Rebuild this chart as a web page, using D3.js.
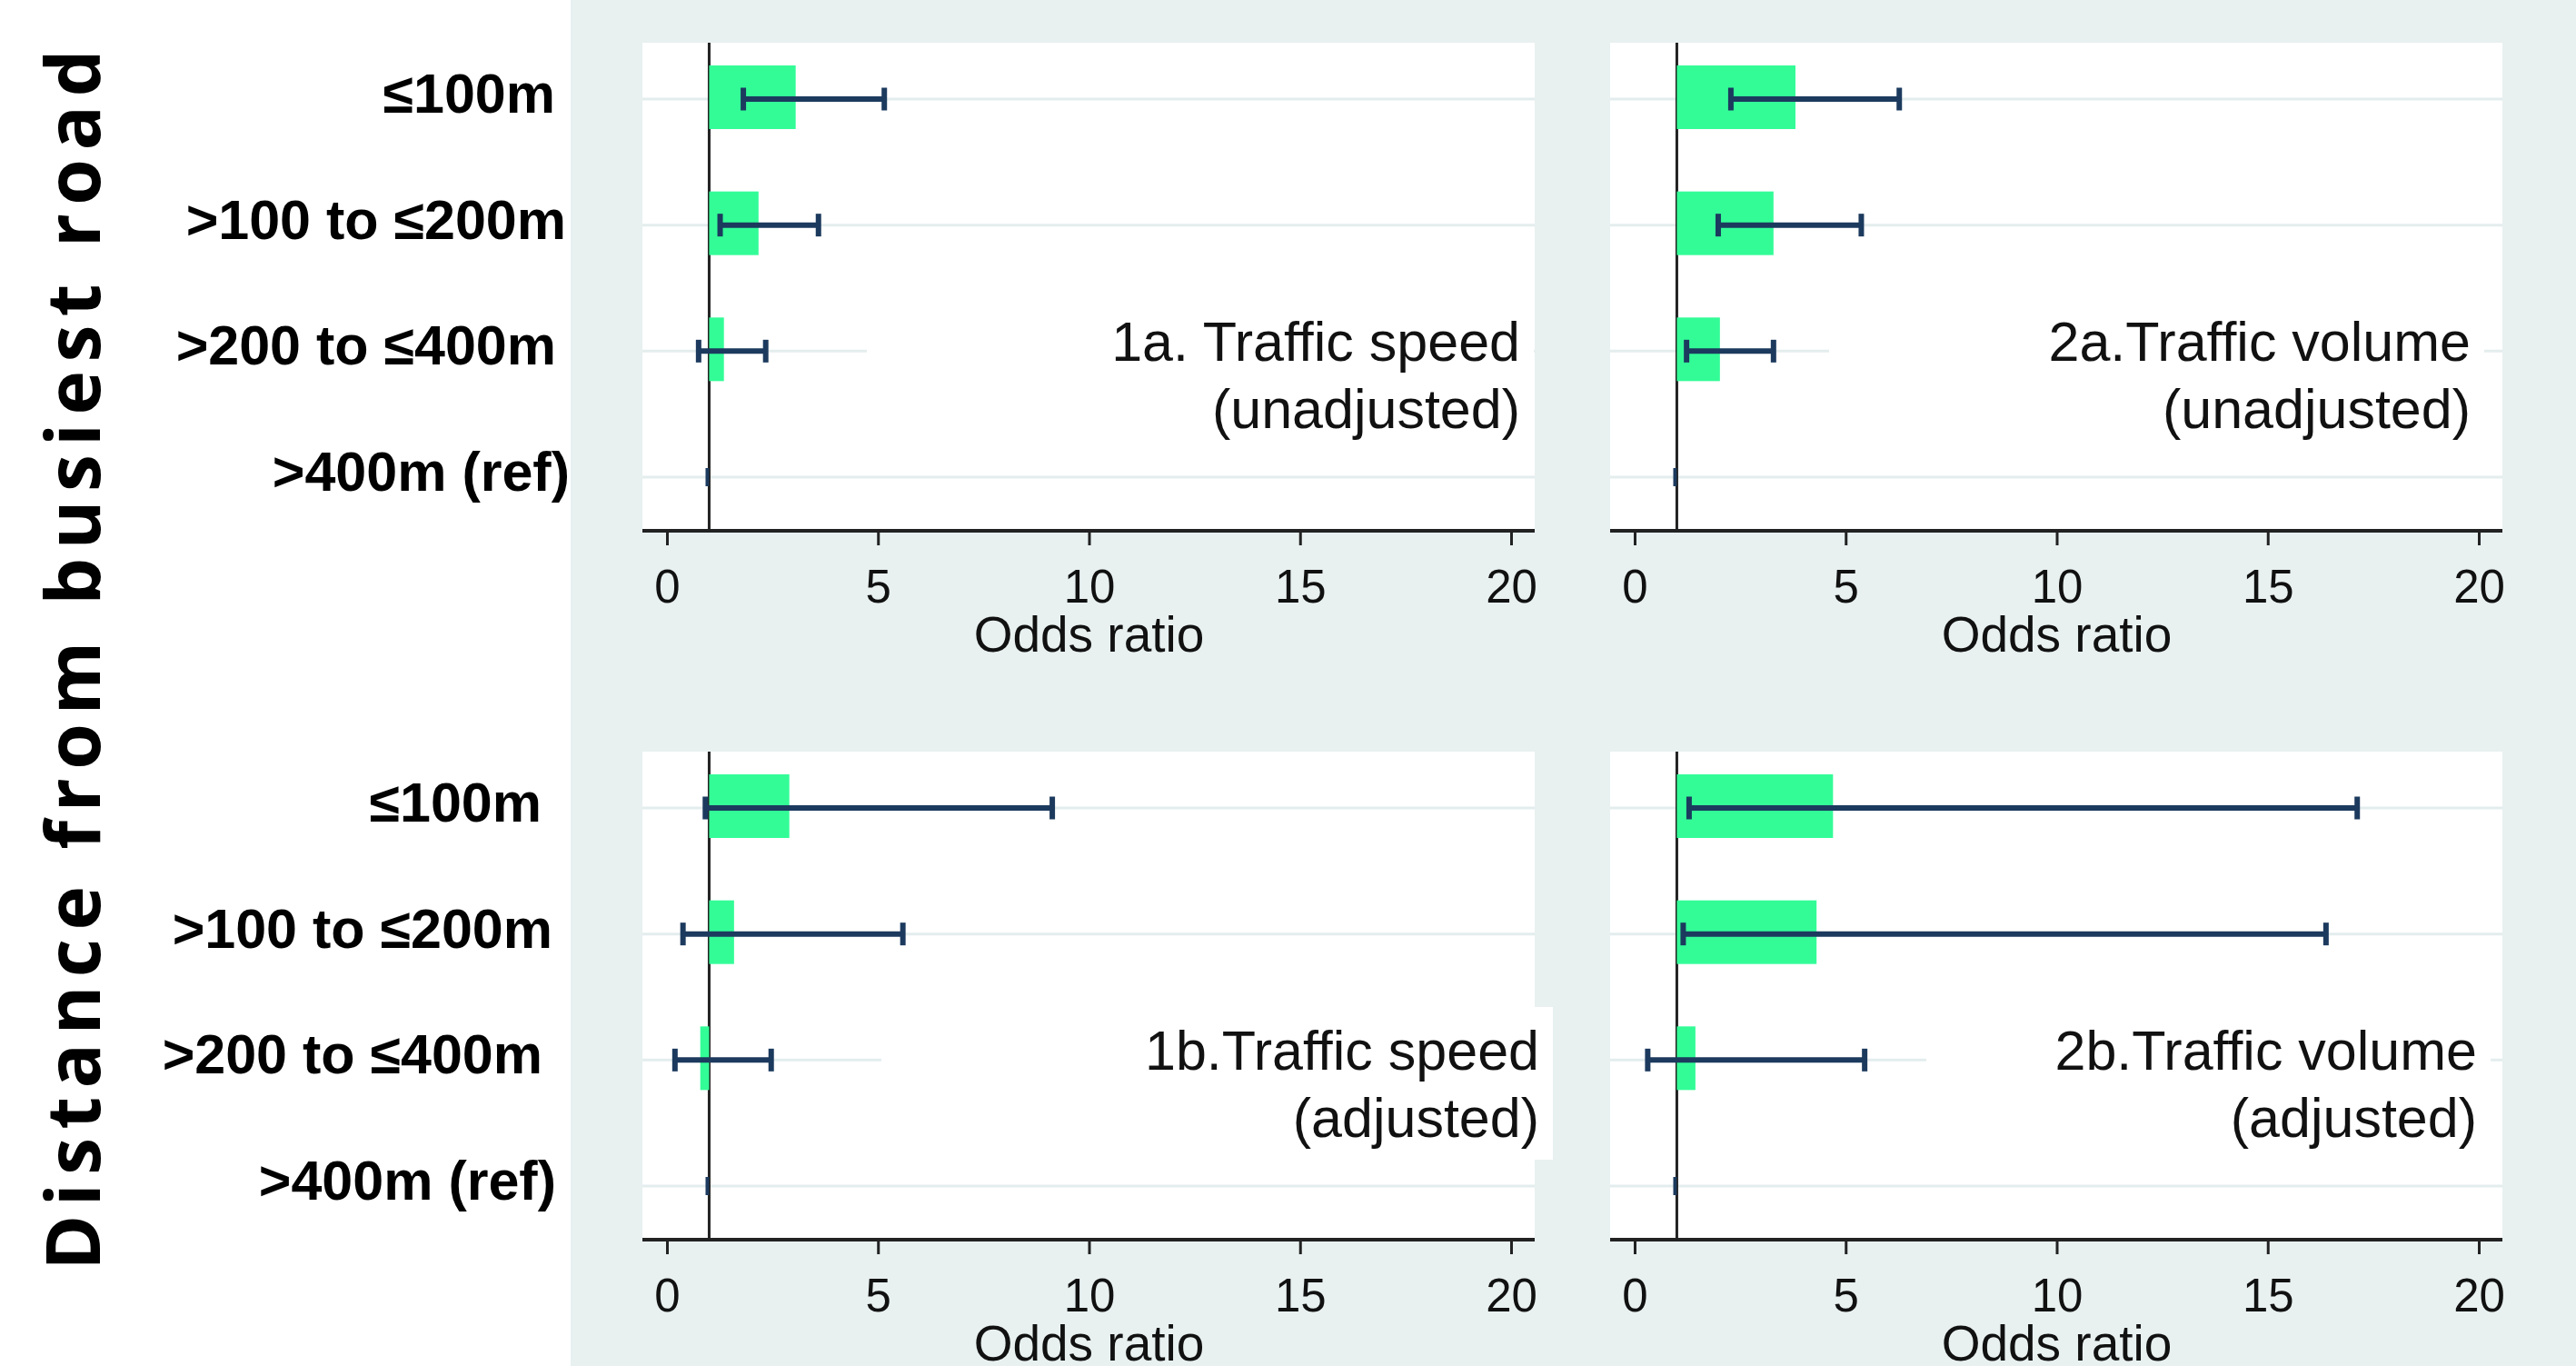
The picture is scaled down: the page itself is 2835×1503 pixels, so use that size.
<!DOCTYPE html>
<html>
<head>
<meta charset="utf-8">
<script src="https://cdn.jsdelivr.net/npm/d3@7"></script>
<style>
  html, body { margin: 0; padding: 0; background: #fff; }
  svg { display: block; }
</style>
</head>
<body>
<div class="chart"></div>
<script>
const width = 2835;
const height = 1503;

// categories
const distanceBands = ["≤100m", ">100 to ≤200m", ">200 to ≤400m", ">400m (ref)"];
const xTicks = [0, 5, 10, 15, 20];
const xLabel = "Odds ratio";
const yLabel = "Distance from busiest road";

// 1a. traffic speed, unadjusted
const or1a = [3.05, 2.17, 1.35, 1];
const lo1a = [1.81, 1.26, 0.75, 1];
const hi1a = [5.15, 3.59, 2.34, 1];
// 2a. traffic volume, unadjusted
const or2a = [3.81, 3.29, 2.02, 1];
const lo2a = [2.28, 1.98, 1.23, 1];
const hi2a = [6.27, 5.37, 3.29, 1];
// 1b. traffic speed, adjusted
const or1b = [2.90, 1.59, 0.79, 1];
const lo1b = [0.91, 0.38, 0.19, 1];
const hi1b = [9.13, 5.59, 2.47, 1];
// 2b. traffic volume, adjusted
const or2b = [4.70, 4.31, 1.44, 1];
const lo2b = [1.29, 1.15, 0.31, 1];
const hi2b = [17.12, 16.38, 5.45, 1];

const panelTitles = [
  ["1a. Traffic speed", "(unadjusted)"],
  ["2a.Traffic volume", "(unadjusted)"],
  ["1b.Traffic speed", "(adjusted)"],
  ["2b.Traffic volume", "(adjusted)"]
];

// layout
const colX = [707, 1772];
const rowY = [47, 827];
const plotW = 982;
const plotH = 537;
const labelRight = [611, 596];
const labelNudge = [0, 12, 1, 16];
const titleRight = [966, 947, 987, 954];
const boxLeft = [247, 241, 263, 348];

const bg = "#e8f0f0";
const barColor = "#33fc97";
const ciColor = "#1c3a5e";
const font = "'Liberation Sans', Arial, sans-serif";

const panels = [
  { or: or1a, lo: lo1a, hi: hi1a, col: 0, row: 0 },
  { or: or2a, lo: lo2a, hi: hi2a, col: 1, row: 0 },
  { or: or1b, lo: lo1b, hi: hi1b, col: 0, row: 1 },
  { or: or2b, lo: lo2b, hi: hi2b, col: 1, row: 1 }
].map((p, i) => ({
  ...p,
  title: panelTitles[i],
  titleRight: titleRight[i],
  boxLeft: boxLeft[i],
  values: distanceBands.map((band, j) => ({ band, or: p.or[j], lo: p.lo[j], hi: p.hi[j] }))
}));

const svg = d3.select(".chart")
  .append("svg")
  .attr("width", width)
  .attr("height", height);

// background, white strip on the left
svg.append("rect").attr("width", width).attr("height", height).attr("fill", bg);
svg.append("rect").attr("width", 628).attr("height", height).attr("fill", "#fff");

const x = d3.scaleLinear().domain([0, 20]).range([27, 956]);
const y = d3.scalePoint().domain(distanceBands).range([62, 478]);
const barH = 70;
const capH = 25;

panels.forEach(p => {
  const g = svg.append("g")
    .attr("transform", `translate(${colX[p.col]}, ${rowY[p.row]})`);

  g.append("rect")
    .attr("width", plotW)
    .attr("height", plotH)
    .attr("fill", "#fff");

  g.selectAll(".grid")
    .data(distanceBands)
    .enter()
    .append("line")
    .attr("class", "grid")
    .attr("x1", 0)
    .attr("x2", plotW)
    .attr("y1", d => y(d))
    .attr("y2", d => y(d))
    .attr("stroke", "#e4eded")
    .attr("stroke-width", 3);

  // white box behind the panel label
  g.append("rect")
    .attr("x", p.boxLeft)
    .attr("y", 281)
    .attr("width", p.titleRight + 15 - p.boxLeft)
    .attr("height", 168)
    .attr("fill", "#fff");

  g.append("line")
    .attr("x1", x(1))
    .attr("x2", x(1))
    .attr("y1", 0)
    .attr("y2", plotH)
    .attr("stroke", "#222")
    .attr("stroke-width", 3);

  g.selectAll(".bar")
    .data(p.values.filter(d => d.or !== 1))
    .enter()
    .append("rect")
    .attr("class", "bar")
    .attr("x", d => Math.min(x(1), x(d.or)))
    .attr("width", d => Math.abs(x(d.or) - x(1)))
    .attr("y", d => y(d.band) - barH / 2 - 2)
    .attr("height", barH)
    .attr("fill", barColor);

  const ci = g.selectAll(".ci")
    .data(p.values)
    .enter()
    .append("g")
    .attr("class", "ci")
    .attr("stroke", ciColor);

  ci.append("line")
    .attr("x1", d => x(d.lo))
    .attr("x2", d => x(d.hi))
    .attr("y1", d => y(d.band))
    .attr("y2", d => y(d.band))
    .attr("stroke-width", 6);

  ci.selectAll(".cap")
    .data(d => [d.lo, d.hi].map(v => ({ v, band: d.band, ref: d.or === 1 })))
    .enter()
    .append("line")
    .attr("class", "cap")
    .attr("x1", d => x(d.v) - (d.ref ? 2 : 0))
    .attr("x2", d => x(d.v) - (d.ref ? 2 : 0))
    .attr("y1", d => y(d.band) - (d.ref ? 10 : capH / 2))
    .attr("y2", d => y(d.band) + (d.ref ? 10 : capH / 2))
    .attr("stroke-width", d => d.ref ? 3.5 : 6);

  // x axis
  const axis = g.append("g")
    .attr("transform", `translate(0, ${plotH})`)
    .call(d3.axisBottom(x).tickValues(xTicks).tickSize(16).tickSizeOuter(0).tickPadding(27));
  axis.select(".domain").remove();
  axis.selectAll(".tick line").attr("stroke", "#222").attr("stroke-width", 3);
  axis.selectAll(".tick text")
    .attr("fill", "#111")
    .attr("font-family", font)
    .attr("font-size", 51);
  axis.append("line")
    .attr("x1", 0)
    .attr("x2", plotW)
    .attr("stroke", "#222")
    .attr("stroke-width", 4);

  g.append("text")
    .attr("x", (x(0) + x(20)) / 2)
    .attr("y", plotH + 133)
    .attr("text-anchor", "middle")
    .attr("font-family", font)
    .attr("font-size", 55)
    .attr("fill", "#111")
    .text(xLabel);

  const title = g.append("text")
    .attr("text-anchor", "end")
    .attr("font-family", font)
    .attr("font-size", 61)
    .attr("fill", "#111");
  p.title.forEach((line, i) => {
    title.append("tspan")
      .attr("x", p.titleRight)
      .attr("y", 350 + i * 74)
      .text(line);
  });

  // row labels on the left for each row of panels
  if (p.col === 0) {
    svg.append("g")
      .selectAll("text")
      .data(distanceBands)
      .enter()
      .append("text")
      .attr("x", (d, i) => labelRight[p.row] + labelNudge[i])
      .attr("y", d => rowY[p.row] + y(d) + 15)
      .attr("text-anchor", "end")
      .attr("font-family", font)
      .attr("font-weight", "bold")
      .attr("font-size", 61)
      .attr("fill", "#000")
      .text(d => d);
  }
});

svg.append("text")
  .attr("transform", "translate(110, 726) rotate(-90)")
  .attr("text-anchor", "middle")
  .attr("font-family", "'Open Sans', 'DejaVu Sans', sans-serif")
  .attr("font-weight", "bold")
  .attr("font-size", 82)
  .attr("textLength", 1343)
  .attr("lengthAdjust", "spacing")
  .attr("fill", "#000")
  .text(yLabel);
</script>
</body>
</html>
